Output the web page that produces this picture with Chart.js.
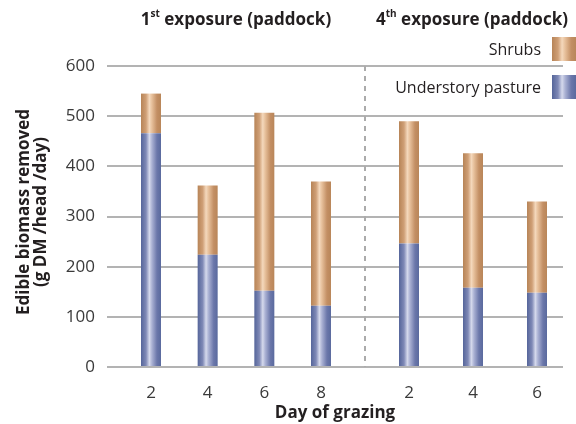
<!DOCTYPE html>
<html>
<head>
<meta charset="utf-8">
<script src="https://cdn.jsdelivr.net/npm/chart.js@4/dist/chart.umd.min.js"></script>
<style>
  html, body { margin: 0; padding: 0; background: #ffffff; }
  #wrap { width: 576px; height: 424px; position: relative; }
</style>
</head>
<body>
<div id="wrap"><canvas id="c" width="576" height="424"></canvas></div>
<script>
// ---- data ----
const days1 = [2, 4, 6, 8];          // 1st exposure (paddock)
const pasture1 = [466, 224, 152, 122];
const shrubs1 = [79, 138, 355, 248];

const days2 = [2, 4, 6];             // 4th exposure (paddock)
const pasture2 = [246, 158, 148];
const shrubs2 = [244, 268, 182];

const yTicks = [0, 100, 200, 300, 400, 500, 600];
const seriesNames = ['Shrubs', 'Understory pasture'];
const groupTitles = [['1', 'st', ' exposure (paddock)'], ['4', 'th', ' exposure (paddock)']];
const xTitle = 'Day of grazing';
const yTitle = ['Edible biomass removed', '(g DM /head /day)'];

// ---- styles ----
const FONT = '"Open Sans", "DejaVu Sans", sans-serif';
const shrubStops = [[0, '#b78457'], [0.25, '#cf9f76'], [0.42, '#f4d8bc'], [0.55, '#e6bf9a'], [0.8, '#c38f64'], [1, '#b98659']];
const pastureStops = [[0, '#55659a'], [0.25, '#7f89b6'], [0.42, '#d5d9ec'], [0.55, '#aab1d3'], [0.8, '#6b77aa'], [1, '#5a6a9e']];

function hGrad(ctx, x0, x1, stops) {
  const g = ctx.createLinearGradient(x0, 0, x1, 0);
  stops.forEach(s => g.addColorStop(s[0], s[1]));
  return g;
}
function barFill(stops, base) {
  return (c) => {
    const chart = c.chart;
    if (c.type !== 'data' || !chart.chartArea || !c.raw) return base;
    const sc = chart.scales[c.dataset.xAxisID];
    const px = sc.getPixelForValue(c.raw.x);
    return hGrad(chart.ctx, px - 10, px + 10, stops);
  };
}
const toPts = (xs, ys) => xs.map((x, i) => ({ x: x, y: ys[i] }));

const datasets = [
  { label: seriesNames[1], xAxisID: 'xa', data: toPts(days1, pasture1), backgroundColor: barFill(pastureStops, '#5a6a9e') },
  { label: seriesNames[0], xAxisID: 'xa', data: toPts(days1, shrubs1), backgroundColor: barFill(shrubStops, '#c09068') },
  { label: seriesNames[1], xAxisID: 'xb', data: toPts(days2, pasture2), backgroundColor: barFill(pastureStops, '#5a6a9e') },
  { label: seriesNames[0], xAxisID: 'xb', data: toPts(days2, shrubs2), backgroundColor: barFill(shrubStops, '#c09068') }
];

function xAxis(days, min, max, weight) {
  return {
    type: 'linear', position: 'bottom', stack: 'days', stackWeight: weight,
    stacked: true, offset: false, min: min, max: max,
    grid: { display: false, drawTicks: false }, border: { display: false },
    afterBuildTicks: (s) => { s.ticks = days.map(v => ({ value: v })); },
    afterFit: (s) => { s.height = 57; },
    ticks: { font: { family: FONT, size: 17 }, color: '#3a3a3a', padding: 16, maxRotation: 0, autoSkip: false }
  };
}

const annot = {
  id: 'annot',
  beforeDatasetsDraw(chart) {
    const { ctx, chartArea } = chart;
    const xd = chart.scales.xa.right;
    ctx.save();
    ctx.strokeStyle = '#ababab';
    ctx.lineWidth = 2;
    ctx.setLineDash([5, 5]);
    ctx.beginPath();
    ctx.moveTo(xd, chartArea.top);
    ctx.lineTo(xd, chartArea.bottom);
    ctx.stroke();
    ctx.restore();
  },
  afterDraw(chart) {
    const { ctx, chartArea } = chart;
    ctx.save();
    ctx.fillStyle = '#231f20';
    // group titles with superscripts
    const big = 'bold 17px ' + FONT, small = 'bold 10px ' + FONT;
    const centers = [(chart.scales.xa.left + chart.scales.xa.right) / 2, (chart.scales.xb.left + chart.scales.xb.right) / 2 + 8];
    groupTitles.forEach((t, i) => {
      ctx.font = big; const w0 = ctx.measureText(t[0]).width, w2 = ctx.measureText(t[2]).width;
      ctx.font = small; const w1 = ctx.measureText(t[1]).width;
      let x = centers[i] - (w0 + w1 + w2) / 2;
      const y = 20;
      ctx.textBaseline = 'middle'; ctx.textAlign = 'left';
      ctx.font = big; ctx.fillText(t[0], x, y); x += w0;
      ctx.font = small; ctx.fillText(t[1], x, y - 6); x += w1;
      ctx.font = big; ctx.fillText(t[2], x, y);
    });
    // legend
    ctx.font = '16px ' + FONT;
    ctx.textAlign = 'right'; ctx.textBaseline = 'middle';
    const legend = [[seriesNames[0], shrubStops, 37], [seriesNames[1], pastureStops, 75]];
    legend.forEach(l => {
      ctx.fillStyle = '#231f20';
      ctx.fillText(l[0], 541, l[2] + 13);
      ctx.fillStyle = hGrad(ctx, 552, 576, l[1]);
      ctx.fillRect(552, l[2], 24, 24);
    });
    // axis titles
    ctx.fillStyle = '#231f20';
    ctx.font = 'bold 17px ' + FONT;
    ctx.textAlign = 'center'; ctx.textBaseline = 'middle';
    ctx.fillText(xTitle, (chartArea.left + chartArea.right) / 2, 413);
    ctx.translate(0, 212);
    ctx.rotate(-Math.PI / 2);
    ctx.fillText(yTitle[0], 0, 24);
    ctx.fillText(yTitle[1], 0, 41);
    ctx.restore();
  }
};

new Chart(document.getElementById('c'), {
  type: 'bar',
  data: { datasets: datasets },
  options: {
    responsive: false,
    animation: false,
    layout: { padding: { left: 57, right: 13, top: 66, bottom: 0 } },
    datasets: { bar: { grouped: false, maxBarThickness: 20, borderWidth: 0 } },
    plugins: { legend: { display: false }, tooltip: { enabled: false }, title: { display: false } },
    scales: {
      xa: xAxis(days1, 0.447, 9.553, 258),
      xb: xAxis(days2, 0.625, 6.8125, 198),
      y: {
        stacked: true, min: 0, max: 600,
        afterBuildTicks: (s) => { s.ticks = yTicks.map(v => ({ value: v })); },
        afterFit: (s) => { s.width = 50; },
        grid: { color: '#b3b3b3', lineWidth: 2, drawTicks: false },
        border: { display: false },
        ticks: { font: { family: FONT, size: 17 }, color: '#3a3a3a', padding: 12 }
      }
    }
  },
  plugins: [annot]
});
</script>
</body>
</html>
